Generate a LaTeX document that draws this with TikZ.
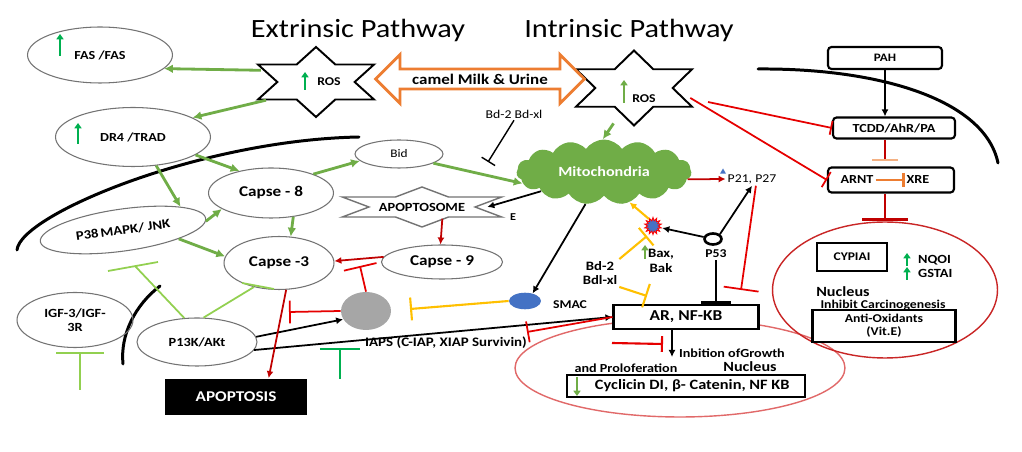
\documentclass[tikz,border=0pt]{standalone}
\usepackage{fontspec}
\setmainfont{Carlito}[FakeStretch=1.15]
\usetikzlibrary{arrows.meta,shapes.geometric,shapes.symbols,shapes.arrows}
\definecolor{lgreen}{RGB}{112,173,71}
\definecolor{pgreen}{RGB}{146,208,80}
\definecolor{bgreen}{RGB}{0,176,80}
\definecolor{dred}{RGB}{192,0,0}
\definecolor{bred}{RGB}{230,0,0}
\definecolor{pinkred}{RGB}{225,105,105}
\definecolor{camelorange}{RGB}{237,125,49}
\definecolor{lorange}{RGB}{244,177,131}
\definecolor{gold}{RGB}{255,192,0}
\definecolor{smacblue}{RGB}{68,114,196}
\definecolor{greyfill}{RGB}{166,166,166}
\begin{document}
\begin{tikzpicture}[x=0.02cm,y=-0.02cm,>=Latex,
  oval/.style={ellipse,draw=black!55,line width=0.6pt,inner sep=0pt,align=center,font=\bfseries\fontsize{7}{8}\selectfont},
  tag/.style={inner sep=1pt,align=center,font=\bfseries\fontsize{6.8}{7.6}\selectfont},
  sbox/.style={draw,line width=1.2pt,fill=white,inner sep=0pt,align=center,font=\bfseries\fontsize{6.8}{7.6}\selectfont},
  hexa/.style={ellipse,inner sep=0pt},
  garr/.style={lgreen,line width=1.6pt,-{Latex[length=5pt,width=5pt]}},
  gbar/.style={pgreen,line width=1pt},
  barr/.style={black,line width=1pt,-{Latex[length=4pt,width=4pt]}},
  rarr/.style={dred,line width=1pt,-{Latex[length=4pt,width=4pt]}},
  rbar/.style={bred,line width=1pt},
  ybar/.style={gold,line width=1.2pt},
  upg/.style={bgreen,line width=1.4pt,-{Triangle[length=3pt,width=4pt]}},
  arc/.style={line width=1.7pt,line cap=round}]
\fill[white] (0,0) rectangle (1022,452);
\useasboundingbox (0,0) rectangle (1022,452);
% titles
\node[font=\fontsize{15}{17}\selectfont] (extr) at (358,30) {Extrinsic Pathway};
\node[font=\fontsize{15}{17}\selectfont] (intr) at (629,30) {Intrinsic Pathway};
% membranes
\draw[arc] (758,69) .. controls (880,68) and (985,100) .. (998,163);
\draw[arc] (17,250) .. controls (20,215) and (200,140) .. (359,137);
\draw[arc] (160,286) .. controls (135,305) and (120,335) .. (123,364);
% nuclei
\node[ellipse,draw=pinkred,line width=0.8pt,minimum width=6.6cm,minimum height=1.96cm] (nucB) at (680,368) {};
\node[ellipse,draw=dred!85,line width=0.8pt,minimum width=4.5cm,minimum height=2.72cm] (nucR) at (885,290) {};
% extrinsic side
\node[oval,minimum width=2.9cm,minimum height=1.12cm] (fas) at (100,55) {FAS /FAS};
\node[oval,minimum width=3.1cm,minimum height=1.18cm] (dr4) at (133,137) {DR4 /TRAD};
\node[oval,minimum width=3.34cm,minimum height=0.84cm,rotate=8,font=\bfseries\fontsize{7.3}{8.3}\selectfont] (p38) at (123,230) {P38\,MAPK/ JNK};
\node[oval,minimum width=2.5cm,minimum height=1.0cm,font=\bfseries\fontsize{8.5}{10}\selectfont] (casp8) at (271,193) {Capse - 8};
\node[oval,minimum width=2.2cm,minimum height=1.06cm,font=\bfseries\fontsize{8.5}{10}\selectfont] (casp3) at (279,263) {Capse -3};
\node[oval,minimum width=1.76cm,minimum height=0.56cm,font=\fontsize{6.6}{7.6}\selectfont] (bid) at (399,154) {Bid};
\node[oval,minimum width=2.42cm,minimum height=0.68cm,font=\bfseries\fontsize{8.5}{10}\selectfont] (casp9) at (442,262) {Capse - 9};
\node[oval,minimum width=2.32cm,minimum height=1.1cm,font=\bfseries\fontsize{7.1}{8.1}\selectfont] (igf) at (75,320) {IGF-3/IGF-\\3R};
\node[oval,minimum width=2.4cm,minimum height=0.96cm,font=\bfseries\fontsize{7.1}{8.1}\selectfont] (pi3k) at (197,342) {P13K/AKt};
\node[ellipse,fill=greyfill,minimum width=1.0cm,minimum height=0.76cm] (grey) at (366,311) {};
\node[ellipse,fill=smacblue,minimum width=0.64cm,minimum height=0.32cm] (smac) at (525,301) {};
\node[tag] (smacLab) at (570,305) {SMAC};
\node[fill=black,text=white,minimum width=2.84cm,minimum height=0.74cm,font=\bfseries\fontsize{8.5}{9.5}\selectfont] (apoptosis) at (236,397) {APOPTOSIS};
% stars
\node[hexa,minimum width=2.32cm,minimum height=1.4cm] (rosL) at (316,82) {};
\node[hexa,minimum width=2.32cm,minimum height=1.5cm] (rosR) at (634,88) {};
\node[hexa,minimum width=2.6cm,minimum height=0.48cm,font=\bfseries\fontsize{7.1}{8}\selectfont] (apop) at (422,207) {APOPTOSOME};
\draw[line width=1.1pt,shift={(rosL.center)},xscale=67,yscale=35] (90:1) -- (60:0.577) -- (30:1) -- (0:0.577) -- (-30:1) -- (-60:0.577) -- (-90:1) -- (-120:0.577) -- (-150:1) -- (180:0.577) -- (150:1) -- (120:0.577) -- cycle;
\draw[line width=1.1pt,shift={(rosR.center)},xscale=67,yscale=37.5] (90:1) -- (60:0.577) -- (30:1) -- (0:0.577) -- (-30:1) -- (-60:0.577) -- (-90:1) -- (-120:0.577) -- (-150:1) -- (180:0.577) -- (150:1) -- (120:0.577) -- cycle;
\draw[line width=0.8pt,black!55,shift={(apop.center)},xscale=92,yscale=20] (90:1) -- (60:0.577) -- (30:1) -- (0:0.577) -- (-30:1) -- (-60:0.577) -- (-90:1) -- (-120:0.577) -- (-150:1) -- (180:0.577) -- (150:1) -- (120:0.577) -- cycle;
\node[tag] (rosLLab) at (329,82) {ROS};
\node[tag] (rosRLab) at (644,99) {ROS};
\node[double arrow,draw=camelorange,line width=1.6pt,fill=white,minimum height=4.18cm,minimum width=0.98cm,double arrow head extend=0.24cm,inner sep=1pt,font=\bfseries\fontsize{8.4}{9.4}\selectfont] (camel) at (480,79) {camel Milk \& Urine};
% intrinsic side
\node[cloud,cloud puffs=15,cloud puff arc=110,aspect=2.7,fill=lgreen,minimum width=3.5cm,minimum height=1.3cm,inner sep=0pt,text=white,font=\bfseries\fontsize{8}{9}\selectfont] (mito) at (604,172) {Mitochondria};
\node[tag,font=\fontsize{6.8}{7.6}\selectfont] (bclTop) at (514,114) {Bd-2 Bd-xl};
\node[tag,font=\bfseries\fontsize{6}{7}\selectfont] (eLab) at (513,217) {E};
\node[tag,font=\fontsize{6.8}{7.6}\selectfont] (p21) at (752,179) {P21, P27};
\node[regular polygon,regular polygon sides=3,fill=smacblue,minimum size=0.14cm,inner sep=0pt] (tri) at (723,172) {};
\node[ellipse,draw,line width=1.5pt,minimum width=0.34cm,minimum height=0.22cm,inner sep=0pt] (p53) at (713,239) {};
\node[tag] (p53Lab) at (716,254) {P53};
\node[star,star points=14,star point ratio=1.6,draw=red,fill=smacblue,line width=0.5pt,minimum size=0.34cm,inner sep=0pt] (burst) at (653,226) {};
\node[tag,font=\bfseries\fontsize{7.3}{8.3}\selectfont] (baxLab) at (661,261) {Bax,\\Bak};
\node[tag,font=\bfseries\fontsize{7.3}{8.3}\selectfont] (bcl2) at (600,273) {Bd-2\\Bdl-xl};
\node[sbox,minimum width=2.9cm,minimum height=0.48cm,font=\bfseries\fontsize{8.6}{9.6}\selectfont] (ar) at (686,317) {AR, NF-KB};
\node[tag,font=\bfseries\fontsize{7.4}{8.4}\selectfont] (iaps) at (446,343) {IAPS (C-IAP, XIAP Survivin)};
\node[tag,anchor=west,font=\bfseries\fontsize{7}{8}\selectfont] (growth) at (677,353) {Inbition ofGrowth};
\node[tag,font=\bfseries\fontsize{7}{8}\selectfont] (prolif) at (626,368) {and Proloferation};
\node[tag,font=\bfseries\fontsize{8}{9}\selectfont] (nucBLab) at (750,367) {Nucleus};
\node[sbox,line width=1pt,minimum width=4.76cm,minimum height=0.44cm,font=\bfseries\fontsize{8.1}{9}\selectfont] (cyc) at (686,386) {\hspace*{0.25cm}Cyclicin DI, β- Catenin, NF KB};
% AhR side
\node[sbox,rounded corners=2pt,minimum width=2.28cm,minimum height=0.44cm,font=\bfseries\fontsize{6.5}{7.5}\selectfont] (pah) at (885,58) {PAH};
\node[sbox,rounded corners=2pt,minimum width=2.44cm,minimum height=0.42cm,font=\bfseries\fontsize{7}{8}\selectfont] (tcdd) at (894,128) {TCDD/AhR/PA};
\node[sbox,rounded corners=2pt,minimum width=2.52cm,minimum height=0.5cm] (arnt) at (891,180) {};
\node[tag,font=\bfseries\fontsize{7}{8}\selectfont] (arntLab) at (857,180) {ARNT};
\node[tag,font=\bfseries\fontsize{7}{8}\selectfont] (xreLab) at (918,180) {XRE};
\node[sbox,minimum width=1.4cm,minimum height=0.56cm,font=\bfseries\fontsize{6.7}{7.7}\selectfont] (cyp) at (852,257) {CYPIAI};
\node[tag,font=\bfseries\fontsize{7.1}{8.1}\selectfont,anchor=west] (nqo) at (916,260) {NQOI};
\node[tag,font=\bfseries\fontsize{7.1}{8.1}\selectfont,anchor=west] (gst) at (916,273) {GSTAI};
\node[tag,font=\bfseries\fontsize{8}{9}\selectfont] (nucRLab) at (843,292) {Nucleus};
\node[tag] (inhib) at (883,305) {Inhibit Carcinogenesis};
\node[sbox,minimum width=2.86cm,minimum height=0.64cm] (antiox) at (884,326) {Anti-Oxidants\\(Vit.E)};
% free ends
\coordinate (c3bar) at (360,266);
\coordinate (apoBar) at (289,312);
\coordinate (tcddFoot) at (708,102);
\coordinate (arBarR) at (741,290);
\coordinate (growFoot) at (612,343);
\coordinate (growBar) at (663,344);
\coordinate (iapsBar) at (527,332);
\coordinate (growTip) at (672,357);
\coordinate (bclBar) at (488,162);
\coordinate (pi3kBar) at (135,266);
\coordinate (casp3Bar) at (254,287);
\coordinate (igfFoot) at (80,390);
\coordinate (igfTop) at (80,352);
\coordinate (iapsFoot) at (340,379);
\coordinate (iapsTop) at (340,348);
\coordinate (greyBar) at (410,309);
\coordinate (burstBar) at (647,236);
\coordinate (arBarY) at (647,296);
% up and down marks
\draw[upg] (60,56) -- (60,34);
\draw[upg] (78,144) -- (78,123);
\draw[upg] (305,90) -- (305,72);
\draw[upg,lgreen,line width=1pt] (624,103) -- (624,80);
\draw[upg,lgreen] (645,259) -- (645,245);
\draw[upg,lgreen] (577,377) -- (577,396);
\draw[upg] (907,266) -- (907,253);
\draw[upg] (907,280) -- (907,267);
% green arrows
\draw[garr] (rosL.168) -- (fas.-12);
\draw[garr] (rosL.200) -- (dr4.18);
\draw[garr] (dr4.-16) -- (casp8.145);
\draw[garr] (dr4.-51) -- (p38.14);
\draw[garr] (p38.-2) -- (casp8.198);
\draw[garr] (p38.-17) -- (casp3.173);
\draw[garr] (casp8.-47) -- (casp3.66);
\draw[garr] (casp8.24) -- (bid.190);
\draw[garr] (bid.-15) -- (mito.188);
\draw[garr] (rosR.240) -- (mito.92);
\draw[gbar] (pi3k.118) -- (pi3kBar) ++(-27,5) -- ++(50,-9);
\draw[gbar] (pi3k.75) -- (casp3Bar) ++(-12,-4) -- ++(32,6);
\draw[gbar,line width=1.4pt,-{Bar[width=27pt]}] (igfFoot) -- (igfTop);
\draw[bgreen,line width=1.4pt,-{Bar[width=23pt]}] (iapsFoot) -- (iapsTop);
% black arrows
\draw[barr] (mito.197) -- (apop.east);
\draw[barr] (mito.240) -- (smac.45);
\draw[barr] (p53) -- (burst);
\draw[barr] (p53.north east) -- (p21.south);
\draw[barr] (pi3k.5) -- (grey.200);
\draw[barr] (pi3k.-8) -- (ar.west);
\draw[barr] (pah.south) -- (pah.south |- tcdd.north);
\draw[barr] (ar.south -| growTip) -- (growTip);
\draw[line width=1.6pt,-{Bar[width=17pt]}] (p53Lab.south) -- (p53Lab.south |- ar.north);
\draw[black,line width=0.8pt,-{Bar[width=9pt]}] (bclTop.south) -- (bclBar);
% red arrows and bars
\draw[rarr] (casp9.175) -- (casp3.2);
\draw[rarr] (apop.-30) -- (casp9.95);
\draw[rarr] (casp3.-75) -- (apoptosis.30);
\draw[rarr] (mito.-5) -- (p21.west);
\draw[rbar,-{Bar[width=19pt]}] (grey.north) -- (c3bar);
\draw[rbar,-{Bar[width=13pt]}] (grey.west) -- (apoBar);
\draw[rbar,-{Bar[width=10pt]}] (rosR.-10) -- (arnt.west);
\draw[rbar,-{Bar[width=8pt]}] (tcddFoot) -- (tcdd.west);
\draw[rbar,-{Bar[width=20pt]}] (p21.-60) -- (arBarR);
\draw[dred,line width=1.4pt,shorten >=3pt,-{Bar[width=15pt,color=lorange]}] (tcdd.south -| nucR.north) -- (nucR.north |- arnt.north);
\draw[camelorange,line width=1.2pt,-{Bar[width=8pt]}] (arntLab.east) -- (xreLab.west);
\draw[dred,line width=1.6pt,-{Bar[width=26pt]}] (nucR.north |- arnt.south) -- (nucR.north);
\draw[rbar,line width=1.2pt,-{Bar[width=9pt]}] (growFoot) -- (growBar);
\draw[rbar,-{Bar[width=12pt]}] (ar.west) -- (iapsBar);
% yellow
\draw[ybar,-{Bar[width=13pt]}] (smac.west) -- (greyBar);
\draw[ybar,-{Bar[width=13pt]}] (bcl2.north east) -- (burstBar);
\draw[ybar,-{Bar[width=14pt]}] (bcl2.south east) -- (arBarY);
\draw[ybar,-{Latex[length=4pt,width=4pt]}] (burst.120) -- (mito.-50);
\end{tikzpicture}
\end{document}
